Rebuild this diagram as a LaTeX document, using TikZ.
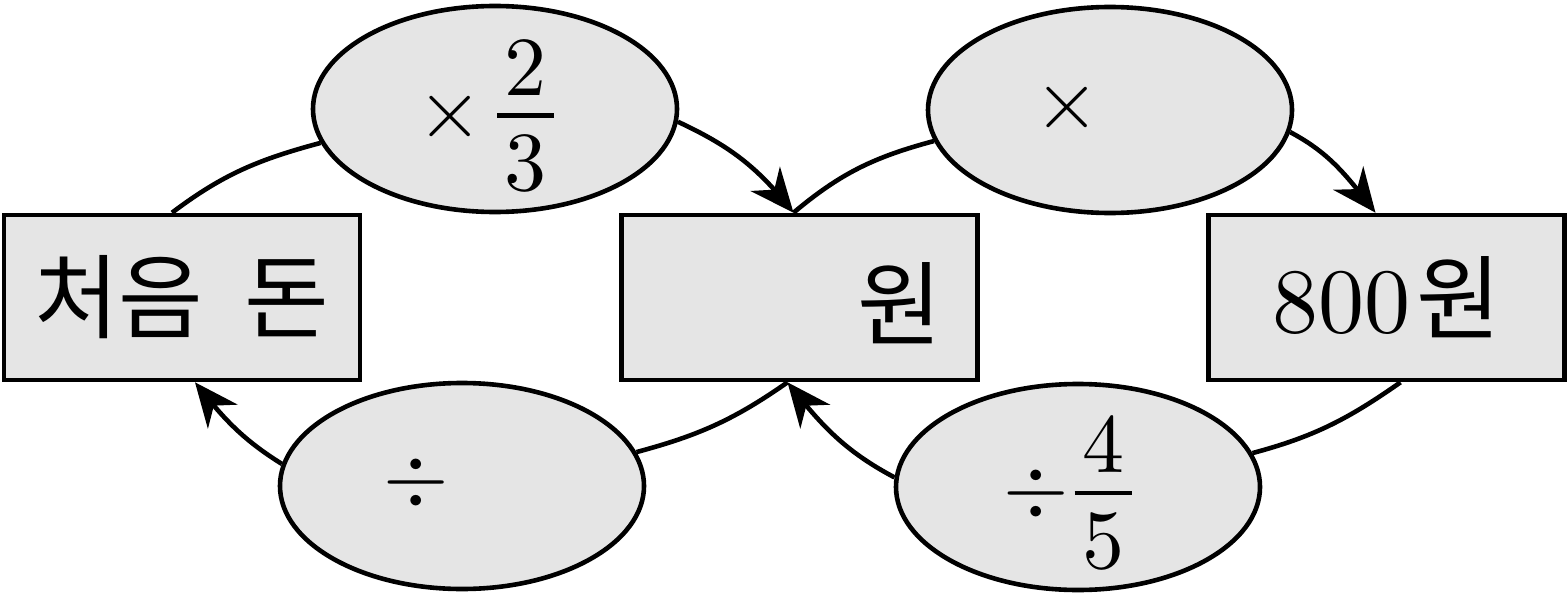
\IfFileExists{fix-cm.sty}{\RequirePackage{fix-cm}}{}
\documentclass[tikz,border=0pt]{standalone}
\usepackage{amsmath}
\usepackage{fontspec}
\setmainfont{lmroman10-regular}[Extension=.otf]
\newfontfamily\kr{Noto Sans CJK KR}
\usetikzlibrary{shapes.geometric,arrows.meta,bending}
\newcommand\stackfrac[2]{\vcenter{\offinterlineskip\halign{\hfil##\hfil\cr #1\cr\noalign{\kern9pt}\vrule width28.5pt height2.2pt\cr\noalign{\kern8.5pt}#2\cr}}}
\tikzset{
  box/.style={draw,line width=2.3pt,fill=black!10,minimum width=178pt,minimum height=82.5pt,inner sep=0pt,font=\fontsize{46}{52}\selectfont},
  oval/.style={ellipse,draw,line width=2.3pt,fill=black!10,minimum width=182pt,minimum height=103pt,inner sep=0pt},
  mtext/.style={inner sep=0pt,font=\fontsize{42}{50}\selectfont},
  conn/.style={line width=2.3pt},
  arr/.style={-{Stealth[length=22pt,width=19pt,inset=7pt,flex]}}
}
\begin{document}
\begin{tikzpicture}[x=0.5pt,y=0.5pt]
\useasboundingbox (0,0) rectangle (1568,596);
\node[box] (lbox) at (182,298.5) {\kr\spaceskip=0.45em 처음 돈};
\node[box] (mbox) at (799.5,298.5) {};
\node[box] (rbox) at (1386.5,298.5) {800\kern3pt{\kr 원}};
\node[inner sep=0pt,font=\fontsize{46}{52}\selectfont\kr] (mtxt) at (900,293) {원};
\node[oval] (e1) at (495,487) {};
\node[oval] (e2) at (1110,486) {};
\node[oval] (e3) at (462,110) {};
\node[oval] (e4) at (1078,109) {};
\node[mtext] (t1) at (486,480) {$\times\,\stackfrac{2}{3}$};
\node[mtext] (t2) at (1067,489) {$\times$};
\node[mtext] (t3) at (416,114) {$\div$};
\node[mtext] (t4) at (1067.5,103) {$\div\kern3pt\stackfrac{4}{5}$};
\coordinate (lt) at ([xshift=-5pt]lbox.north);
\coordinate (mt) at ([xshift=-3pt]mbox.north);
\coordinate (rt) at ([xshift=-5.5pt]rbox.north);
\coordinate (rb) at ([xshift=7pt]rbox.south);
\coordinate (mb) at ([xshift=-6pt]mbox.south);
\coordinate (lb) at ([xshift=6.5pt]lbox.south);
\draw[conn] (lt) to[out=37,in=195] (e1.191);
\draw[conn,arr] (e1.-4) to[out=-25,in=128] (mt);
\draw[conn] (mt) to[out=40,in=195] (e2.190);
\draw[conn,arr] (e2.-7) to[out=-28,in=128] (rt);
\draw[conn] (rb) to[out=-145,in=15] (e4.11);
\draw[conn,arr] (e4.177) to[out=152,in=-52] (mb);
\draw[conn] (mb) to[out=-145,in=15] (e3.11);
\draw[conn,arr] (e3.173) to[out=148,in=-52] (lb);
\end{tikzpicture}
\end{document}
